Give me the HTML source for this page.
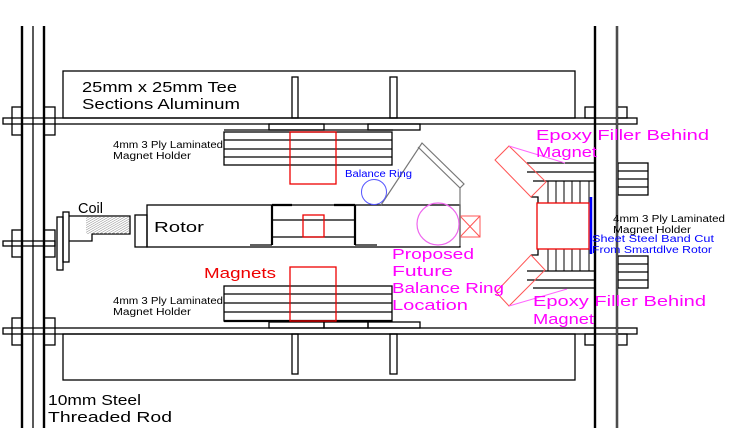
<!DOCTYPE html>
<html><head><meta charset="utf-8"><style>
html,body{margin:0;padding:0;background:#fff;}
svg{display:block;}
text{font-family:"Liberation Sans",sans-serif;}
</style></head><body>
<svg width="733" height="446" viewBox="0 0 733 446" xmlns="http://www.w3.org/2000/svg">
<rect width="733" height="446" fill="#fff"/>
<g fill="none" stroke="#000" stroke-width="1.3">
<!-- vertical rods -->
<line x1="22" y1="26" x2="22" y2="428" stroke-width="2.4"/>
<line x1="33" y1="26" x2="33" y2="428"/>
<line x1="44" y1="26" x2="44" y2="428" stroke-width="2.4"/>
<line x1="595" y1="26" x2="595" y2="428" stroke-width="2.4"/>
<line x1="617" y1="26" x2="617" y2="428" stroke-width="2.4"/>
<!-- top / bottom bars -->
<rect x="3" y="118" width="634" height="6"/>
<rect x="3" y="328" width="634" height="6"/>
<rect x="3" y="241" width="52" height="5"/>
<!-- nuts -->
<rect x="12" y="107" width="10" height="28"/><rect x="44" y="107" width="11" height="28"/>
<rect x="12" y="318" width="10" height="27"/><rect x="44" y="318" width="11" height="27"/>
<rect x="12" y="230" width="10" height="27"/><rect x="44" y="230" width="11" height="27"/>
<rect x="585" y="107" width="10" height="11"/><rect x="617" y="107" width="10" height="11"/>
<rect x="585" y="334" width="10" height="11"/><rect x="617" y="334" width="10" height="11"/>
<!-- big rects -->
<rect x="63" y="71" width="512" height="47"/>
<rect x="63" y="334" width="512" height="46"/>
<!-- T stems -->
<rect x="292" y="77" width="6" height="41"/><rect x="390" y="77" width="7" height="41"/>
<rect x="292" y="334" width="6" height="40"/><rect x="390" y="334" width="7" height="40"/>
<!-- flanges -->
<rect x="269" y="124" width="55" height="6"/><rect x="368" y="124" width="52" height="6"/>
<rect x="269" y="322" width="55" height="6"/><rect x="324" y="322" width="44" height="6"/><rect x="368" y="322" width="52" height="6"/>
<!-- top stack -->
<rect x="224" y="132" width="168" height="33"/>
<line x1="224" y1="140" x2="392" y2="140"/><line x1="224" y1="149" x2="392" y2="149"/><line x1="224" y1="157" x2="392" y2="157"/>
<line x1="224" y1="130" x2="393" y2="130"/>
<!-- bottom stack -->
<rect x="224" y="286" width="168" height="35"/>
<line x1="224" y1="294" x2="392" y2="294"/><line x1="224" y1="303" x2="392" y2="303"/><line x1="224" y1="312" x2="392" y2="312"/>
<line x1="224" y1="321" x2="392" y2="321" stroke-width="2.2"/>
<!-- coil assembly -->
<rect x="57" y="217" width="6" height="53"/>
<rect x="63" y="212" width="6" height="50"/>
<polyline points="69,216 130,216 130,234 92,234 92,241 69,241"/>
<rect x="135" y="215" width="12" height="32"/>
<!-- rotor -->
<rect x="147" y="205" width="313" height="42"/>
<line x1="272" y1="205" x2="272" y2="245" stroke-width="2.2"/>
<line x1="355" y1="205" x2="355" y2="245" stroke-width="2.2"/>
<line x1="272" y1="205" x2="292" y2="205" stroke-width="2.2"/>
<line x1="334" y1="205" x2="355" y2="205" stroke-width="2.2"/>
<line x1="272" y1="220" x2="355" y2="220"/><line x1="272" y1="237" x2="355" y2="237"/>
<line x1="250" y1="245" x2="272" y2="245"/><line x1="355" y1="245" x2="377" y2="245"/>
<!-- right assembly -->
<line x1="527" y1="163" x2="595" y2="163"/><line x1="527" y1="172" x2="595" y2="172"/><line x1="533" y1="181" x2="595" y2="181"/>
<line x1="527" y1="271" x2="595" y2="271"/><line x1="527" y1="280" x2="595" y2="280"/><line x1="533" y1="288" x2="595" y2="288"/>
<polyline points="531,197 538,197 538,203"/><polyline points="531,255 538,255 538,249"/>
<g stroke-width="1">
<line x1="548" y1="181" x2="548" y2="203"/><line x1="556" y1="181" x2="556" y2="203"/><line x1="564" y1="181" x2="564" y2="203"/><line x1="572" y1="181" x2="572" y2="203"/><line x1="580" y1="181" x2="580" y2="203"/><line x1="589" y1="181" x2="589" y2="203"/>
<line x1="548" y1="249" x2="548" y2="271"/><line x1="556" y1="249" x2="556" y2="271"/><line x1="564" y1="249" x2="564" y2="271"/><line x1="572" y1="249" x2="572" y2="271"/><line x1="580" y1="249" x2="580" y2="271"/><line x1="589" y1="249" x2="589" y2="271"/>
</g>
<rect x="618" y="163" width="30" height="32"/>
<line x1="618" y1="171" x2="648" y2="171"/><line x1="618" y1="179" x2="648" y2="179"/><line x1="618" y1="187" x2="648" y2="187"/>
<rect x="618" y="256" width="30" height="32"/>
<line x1="618" y1="264" x2="648" y2="264"/><line x1="618" y1="272" x2="648" y2="272"/><line x1="618" y1="280" x2="648" y2="280"/>
</g>
<!-- coil hatch -->
<defs><pattern id="h" width="2" height="2" patternUnits="userSpaceOnUse" patternTransform="rotate(60)"><line x1="0" y1="0" x2="0" y2="2" stroke="#888" stroke-width="1"/></pattern></defs>
<rect x="86" y="217" width="43" height="17" fill="url(#h)"/>
<!-- red parts -->
<g fill="none" stroke="#e00" stroke-width="1.3">
<rect x="290" y="132" width="46" height="52"/>
<rect x="290" y="267" width="46" height="54"/>
<rect x="303" y="215" width="21" height="22"/>
<rect x="537" y="203" width="52" height="46"/>
</g>
<g fill="none" stroke="#f55" stroke-width="1">
<rect x="460" y="216" width="20" height="21"/>
<line x1="460" y1="216" x2="480" y2="237"/><line x1="480" y1="216" x2="460" y2="237"/>
<polygon points="495,160 509,146 546,182 531,197"/>
<polygon points="531,255 545,270 509,306 496,292"/>
</g>
<!-- gray arm -->
<g fill="none" stroke="#777" stroke-width="1.2">
<polyline points="381,205 422,143 464,184 460,188 460,246"/>
<line x1="418" y1="147" x2="460" y2="188"/>
</g>
<line x1="617" y1="26" x2="617" y2="428" stroke="#999" stroke-width="1"/>
<!-- circles -->
<circle cx="374" cy="192" r="12.5" fill="none" stroke="#55f" stroke-width="1"/>
<circle cx="438" cy="224" r="21" fill="none" stroke="#e6e" stroke-width="1.2"/>
<line x1="591" y1="197" x2="591" y2="254" stroke="#00f" stroke-width="2.5"/>
<!-- leaders -->
<line x1="509" y1="146" x2="565" y2="163" stroke="#f6f" stroke-width="1"/>
<line x1="509" y1="306" x2="567" y2="289" stroke="#f6f" stroke-width="1"/>
<!-- text -->
<g font-size="15" fill="#000">
<text x="82" y="92" textLength="155" lengthAdjust="spacingAndGlyphs">25mm x 25mm Tee</text>
<text x="82" y="109" textLength="158" lengthAdjust="spacingAndGlyphs">Sections Aluminum</text>
<text x="154" y="232" textLength="50" lengthAdjust="spacingAndGlyphs">Rotor</text>
<text x="78" y="213" textLength="25" lengthAdjust="spacingAndGlyphs">Coil</text>
<text x="48" y="405" textLength="93" lengthAdjust="spacingAndGlyphs">10mm Steel</text>
<text x="48" y="422" textLength="124" lengthAdjust="spacingAndGlyphs">Threaded Rod</text>
</g>
<g font-size="10" fill="#000">
<text x="113" y="148" textLength="110" lengthAdjust="spacingAndGlyphs">4mm 3 Ply Laminated</text>
<text x="113" y="159" textLength="78" lengthAdjust="spacingAndGlyphs">Magnet Holder</text>
<text x="113" y="304" textLength="110" lengthAdjust="spacingAndGlyphs">4mm 3 Ply Laminated</text>
<text x="113" y="315" textLength="78" lengthAdjust="spacingAndGlyphs">Magnet Holder</text>
<text x="613" y="222" textLength="112" lengthAdjust="spacingAndGlyphs">4mm 3 Ply Laminated</text>
<text x="613" y="233" textLength="78" lengthAdjust="spacingAndGlyphs">Magnet Holder</text>
</g>
<g font-size="10" fill="#00f">
<text x="345" y="177" textLength="67" lengthAdjust="spacingAndGlyphs">Balance Ring</text>
<text x="592" y="242" textLength="122" lengthAdjust="spacingAndGlyphs">Sheet Steel Band Cut</text>
<text x="592" y="253" textLength="120" lengthAdjust="spacingAndGlyphs">From Smartdlve Rotor</text>
</g>
<text x="204" y="278" font-size="15" fill="#e00" textLength="72" lengthAdjust="spacingAndGlyphs">Magnets</text>
<g font-size="15" fill="#f0f">
<text x="392" y="259" textLength="82" lengthAdjust="spacingAndGlyphs">Proposed</text>
<text x="392" y="276" textLength="61" lengthAdjust="spacingAndGlyphs">Future</text>
<text x="392" y="293" textLength="112" lengthAdjust="spacingAndGlyphs">Balance Ring</text>
<text x="392" y="310" textLength="76" lengthAdjust="spacingAndGlyphs">Location</text>
<text x="536" y="140" textLength="173" lengthAdjust="spacingAndGlyphs">Epoxy Filler Behind</text>
<text x="536" y="157" textLength="61" lengthAdjust="spacingAndGlyphs">Magnet</text>
<text x="533" y="306" textLength="173" lengthAdjust="spacingAndGlyphs">Epoxy Filler Behind</text>
<text x="533" y="324" textLength="61" lengthAdjust="spacingAndGlyphs">Magnet</text>
</g>
</svg>
</body></html>
